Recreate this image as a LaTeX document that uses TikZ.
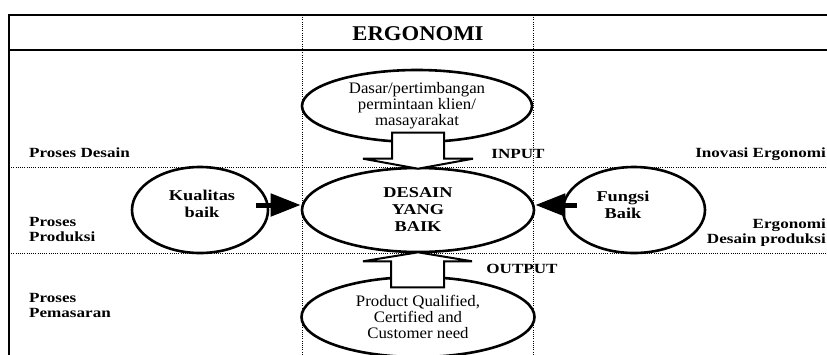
\documentclass[tikz,border=0pt]{standalone}
\usepackage{fontspec}
\setmainfont{Liberation Serif}
\newfontfamily\labfont[FakeStretch=1.22]{Liberation Serif}
\newfontfamily\titfont[FakeStretch=1.08]{Liberation Serif}
\newfontfamily\regfont[FakeStretch=1.05]{Liberation Serif}
\usetikzlibrary{calc,arrows.meta,shapes.geometric}
\begin{document}
\begin{tikzpicture}[x=1pt,y=-1pt,
 frame/.style={line width=2pt},
 dotline/.style={line width=0.9pt, dash pattern=on 1pt off 1.2pt},
 oval/.style={ellipse, draw, line width=2.6pt, fill=white, inner sep=0pt},
 lab/.style={font=\labfont\bfseries\fontsize{14}{15}\selectfont, align=left, inner sep=0pt},
 big/.style={font=\labfont\bfseries\fontsize{15}{17}\selectfont, align=center, inner sep=0pt},
 reg/.style={font=\regfont\fontsize{16}{16}\selectfont, align=center},
 blk/.style={draw, fill=white, line width=2pt, line join=miter},
 fat/.style={line width=5pt, -{Triangle[length=30pt,width=22pt]}}
]
\useasboundingbox (0,0) rectangle (827,354);
% frame
\draw[frame] (9,15) -- (830,15);
\draw[frame] (9,50) -- (830,50);
\draw[line width=2.5pt] (9,14) -- (9,356);
% dotted grid
\draw[dotline] (302,15) -- (302,356);
\draw[dotline] (533,15) -- (533,356);
\draw[dotline] (9,167) -- (830,167);
\draw[dotline] (9,253) -- (830,253);
% title
\node[font=\titfont\bfseries\fontsize{21}{21}\selectfont] (title) at (418,34) {ERGONOMI};
% ellipses
\node[oval, minimum width=230pt, minimum height=72pt, reg] (topE) at (417,106)
  {Dasar/pertimbangan\\permintaan klien/\\masayarakat};
\node[oval, minimum width=232pt, minimum height=84pt, big] (desain) at (418,210)
  {DESAIN\\YANG\\BAIK};
\node[oval, minimum width=233pt, minimum height=80pt, reg] (botE) at (418,317)
  {Product Qualified,\\Certified and\\Customer need};
\node[oval, minimum width=136pt, minimum height=86pt] (kual) at (200,210) {};
\node[big] (kualT) at (202,204) {Kualitas\\baik};
\node[oval, minimum width=142pt, minimum height=86pt] (fung) at (634,210) {};
\node[big] (fungT) at (623,205) {Fungsi\\Baik};
% block arrows
\draw[blk] ($(desain.north)+(0,2)$) -- ++(-55,-10) -- ++(29,0) -- ++(0,-26)
  -- ++(52,0) -- ++(0,26) -- ++(29,0) -- cycle;
\draw[blk] ($(desain.south)+(0,-1)$) -- ++(-55,9) -- ++(28,0) -- ++(0,26)
  -- ++(53,0) -- ++(0,-26) -- ++(28,0) -- cycle;
% fat arrows
\draw[fat] ($(kual.east)+(-13,-5)$) -- ($(desain.west)+(0,-5)$);
\draw[fat] ($(fung.west)+(15,-5)$) -- ($(desain.east)+(0,-5)$);
% labels
\node[lab] (inp) at (518,154) {INPUT};
\node[lab] (outp) at (522,269) {OUTPUT};
\node[lab, anchor=west] (pd) at (29,153) {Proses Desain};
\node[lab, anchor=west] (pp) at (29,229) {Proses\\Produksi};
\node[lab, anchor=west] (pm) at (29,305) {Proses\\Pemasaran};
\node[lab, anchor=east] (ie) at (826,154) {Inovasi Ergonomi};
\node[lab, anchor=east, align=right] (ed) at (826,233) {Ergonomi\\Desain produksi};
\end{tikzpicture}
\end{document}
